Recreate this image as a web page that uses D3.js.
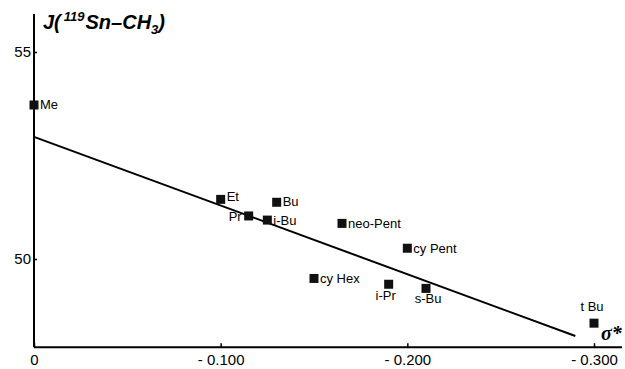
<!DOCTYPE html>
<html>
<head>
<meta charset="utf-8">
<script src="https://cdn.jsdelivr.net/npm/d3@7"></script>
<style>
  body { margin: 0; background: #fff; }
  svg { display: block; font-family: "Liberation Sans Narrow", "Liberation Sans", Arial, sans-serif; }
</style>
</head>
<body>
<svg id="chart" width="625" height="369"></svg>
<script>
// substituents, sigma* values and J(119Sn-CH3) couplings
const names = ["Me", "Et", "Pr", "i-Bu", "Bu", "cy Hex", "neo-Pent", "i-Pr", "cy Pent", "s-Bu", "t Bu"]
const sigmaStar = [0, -0.100, -0.115, -0.125, -0.130, -0.150, -0.165, -0.190, -0.200, -0.210, -0.300]
const jValues = [53.72, 51.44, 51.04, 50.94, 51.37, 49.53, 50.86, 49.39, 50.26, 49.29, 48.45]
// fitted regression line end points
const fitX = [0, -0.290]
const fitY = [52.95, 48.14]
const xTicks = [0, -0.1, -0.2, -0.3]
const yTicks = [50, 55]

const svg = d3.select("#chart")
const x = d3.scaleLinear().domain([0, -0.3]).range([34, 594])
const y = d3.scaleLinear().domain([50, 55]).range([259, 52])

// label placement relative to the square
const labelPos = {
  "Me": [6, 4, "start"], "Et": [6, 2, "start"], "Bu": [6, 4, "start"],
  "Pr": [-7, 5, "end"], "i-Bu": [6, 5, "start"], "neo-Pent": [6, 5, "start"],
  "cy Pent": [6, 5, "start"], "cy Hex": [6, 5, "start"], "i-Pr": [-3, 16, "middle"],
  "s-Bu": [2, 15, "middle"], "t Bu": [-2, -12, "middle"]
}

// axes lines
const axisY = y(47.87)
svg.append("line")
  .attr("x1", x(0)).attr("x2", x(0))
  .attr("y1", y(55.92)).attr("y2", axisY)
  .attr("stroke", "#000").attr("stroke-width", 2)
svg.append("line")
  .attr("x1", x(0)).attr("x2", x(-0.315))
  .attr("y1", axisY).attr("y2", axisY)
  .attr("stroke", "#000").attr("stroke-width", 2)

const xAxis = svg.append("g")
  .attr("transform", "translate(0," + axisY + ")")
  .call(d3.axisBottom(x).tickValues(xTicks).tickSize(-4)
    .tickFormat(d => d === 0 ? "0" : "- " + (-d).toFixed(3)))
xAxis.select(".domain").remove()
xAxis.selectAll("text").attr("dy", "1em").attr("font-size", 15).attr("fill", "#000")
xAxis.selectAll("line").attr("stroke", "#000").attr("stroke-width", 1.5)

const yAxis = svg.append("g")
  .attr("transform", "translate(" + x(0) + ",0)")
  .call(d3.axisLeft(y).tickValues(yTicks).tickSize(-3).tickPadding(3).tickFormat(d3.format("d")))
yAxis.select(".domain").remove()
yAxis.selectAll("text").attr("font-size", 15).attr("fill", "#000")
yAxis.selectAll("line").attr("stroke", "#000").attr("stroke-width", 1.5)

// regression line
svg.append("line")
  .attr("x1", x(fitX[0])).attr("y1", y(fitY[0]))
  .attr("x2", x(fitX[1])).attr("y2", y(fitY[1]))
  .attr("stroke", "#000").attr("stroke-width", 2)

// data points
const pts = names.map((n, i) => ({ name: n, sx: sigmaStar[i], j: jValues[i] }))
const g = svg.selectAll(".pt").data(pts).enter().append("g").attr("class", "pt")
g.append("rect")
  .attr("x", d => x(d.sx) - 4.5).attr("y", d => y(d.j) - 4.5)
  .attr("width", 9).attr("height", 9).attr("fill", "#111")
g.append("text")
  .attr("x", d => x(d.sx) + labelPos[d.name][0])
  .attr("y", d => y(d.j) + labelPos[d.name][1])
  .attr("text-anchor", d => labelPos[d.name][2])
  .attr("font-size", 13)
  .text(d => d.name)

// title
const title = svg.append("text")
  .attr("x", 43).attr("y", 29)
  .attr("font-family", "Liberation Sans, Arial, sans-serif")
  .attr("font-style", "italic").attr("font-weight", "bold").attr("font-size", 20)
title.append("tspan").text("J(")
title.append("tspan").attr("dx", 3).attr("dy", -8).attr("font-size", 13).text("119")
title.append("tspan").attr("dx", 1).attr("dy", 8).text("Sn\u2013CH")
title.append("tspan").attr("dy", 5).attr("font-size", 13).text("3")
title.append("tspan").attr("dy", -5).text(")")

// x-axis quantity symbol
svg.append("text")
  .attr("x", 601).attr("y", 340)
  .attr("font-family", "Liberation Serif, serif")
  .attr("font-style", "italic").attr("font-weight", "bold").attr("font-size", 20)
  .text("\u03c3*")
</script>
</body>
</html>
